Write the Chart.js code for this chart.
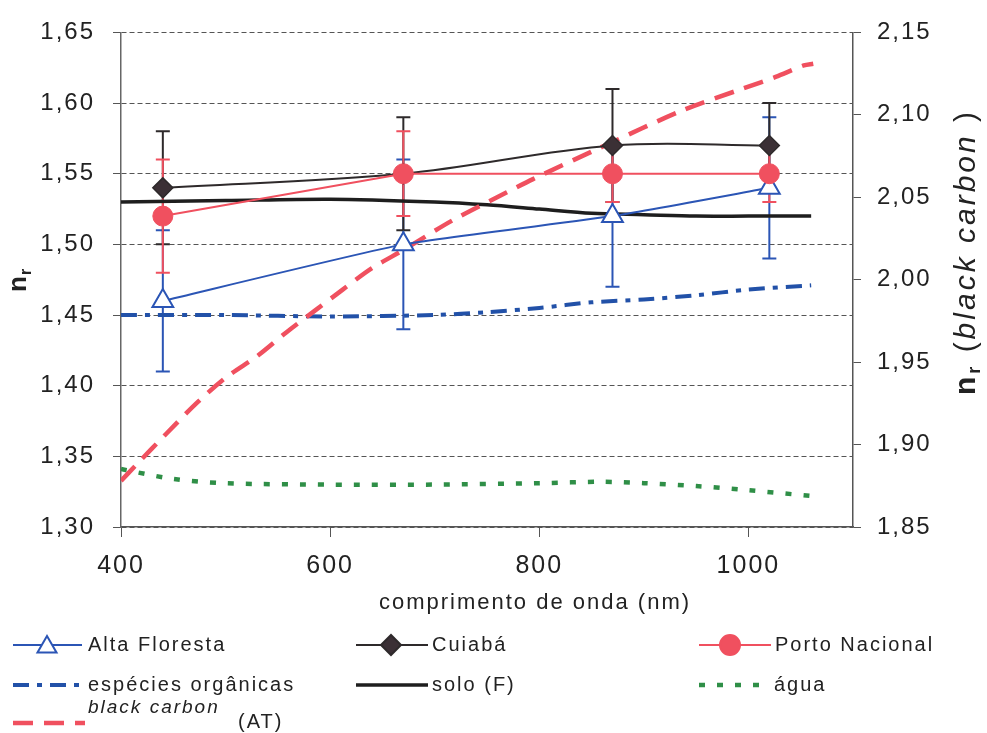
<!DOCTYPE html>
<html>
<head>
<meta charset="utf-8">
<script src="https://cdn.jsdelivr.net/npm/chart.js@4.4.1/dist/chart.umd.min.js"></script>
<style>
  html, body { margin: 0; padding: 0; background: #fff; }
</style>
</head>
<body>
<canvas id="chart" width="987" height="733"></canvas>
<script>
const FONT = '"Liberation Sans", Arial, sans-serif';

// Station measurements (nm, n_r, error)
const wlStations = [440, 670, 870, 1020];
const altaFloresta = [1.46, 1.50, 1.52, 1.54];
const altaFlorestaErr = [0.05, 0.06, 0.05, 0.05];
const cuiaba = [1.54, 1.55, 1.57, 1.57];
const cuiabaErr = [0.04, 0.04, 0.04, 0.03];
const portoNacional = [1.52, 1.55, 1.55, 1.55];
const portoNacionalErr = [0.04, 0.03, 0.02, 0.02];

// Reference curves (left axis)
const wlCurves = [400, 500, 600, 700, 750, 800, 850, 900, 950, 1000, 1060];
const organicas = [1.450, 1.450, 1.449, 1.450, 1.452, 1.455, 1.459, 1.461, 1.464, 1.468, 1.471];
const solo = [1.530, 1.531, 1.532, 1.530, 1.528, 1.525, 1.522, 1.521, 1.520, 1.520, 1.520];
const wlAgua = [400, 450, 500, 600, 700, 800, 860, 900, 950, 1000, 1060];
const agua = [1.341, 1.334, 1.331, 1.330, 1.330, 1.331, 1.332, 1.331, 1.329, 1.326, 1.322];

// black carbon (right axis)
const wlBC = [400, 415, 444, 472, 501, 531, 558, 587, 612, 640, 670, 717, 769, 794, 858, 938, 995, 1026, 1053, 1062];
const blackCarbon = [1.878, 1.888, 1.907, 1.925, 1.941, 1.954, 1.968, 1.982, 1.994, 2.007, 2.018, 2.036, 2.053, 2.061, 2.080, 2.103, 2.116, 2.123, 2.130, 2.131];

const xTicks = [400, 600, 800, 1000];

const RED = '#f0505f';
const BLUE = '#2b55b5';
const DARK = '#2e2a2b';
const GREEN = '#2f8f47';

function pts(xs, ys) {
    return xs.map((x, i) => ({ x: x, y: ys[i] }));
}
const comma = v => v.toFixed(2).replace('.', ',');

// error bars behind the markers
const errorBars = {
    id: 'errorBars',
    beforeDatasetsDraw(chart) {
        const ctx = chart.ctx, sx = chart.scales.x, sy = chart.scales.y;
        chart.data.datasets.forEach(ds => {
            if (!ds.errors) return;
            ctx.save();
            ctx.strokeStyle = ds.borderColor;
            ctx.lineWidth = 2;
            ds.data.forEach((p, i) => {
                const px = sx.getPixelForValue(p.x);
                const top = sy.getPixelForValue(p.y + ds.errors[i]);
                const bot = sy.getPixelForValue(p.y - ds.errors[i]);
                ctx.beginPath();
                ctx.moveTo(px, top); ctx.lineTo(px, bot);
                ctx.moveTo(px - 7, top); ctx.lineTo(px + 7, top);
                ctx.moveTo(px - 7, bot); ctx.lineTo(px + 7, bot);
                ctx.stroke();
            });
            ctx.restore();
        });
    }
};

const spacing = {
    id: 'spacing',
    beforeDraw(chart) { chart.ctx.letterSpacing = '2px'; }
};

function sampleLine(ctx, x1, x2, y, color, width, dash) {
    ctx.save();
    ctx.strokeStyle = color;
    ctx.lineWidth = width;
    ctx.setLineDash(dash || []);
    ctx.beginPath();
    ctx.moveTo(x1, y); ctx.lineTo(x2, y);
    ctx.stroke();
    ctx.restore();
}

function marker(ctx, style, x, y, r, fill, stroke) {
    ctx.save();
    ctx.beginPath();
    if (style === 'triangle') {
        for (let k = 0; k < 3; k++) {
            const a = k * 2 * Math.PI / 3;
            const px = x + Math.sin(a) * r, py = y - Math.cos(a) * r;
            k ? ctx.lineTo(px, py) : ctx.moveTo(px, py);
        }
        ctx.closePath();
    } else if (style === 'rectRot') {
        ctx.moveTo(x - r, y); ctx.lineTo(x, y - r); ctx.lineTo(x + r, y); ctx.lineTo(x, y + r);
        ctx.closePath();
    } else {
        ctx.arc(x, y, r, 0, Math.PI * 2);
    }
    ctx.fillStyle = fill;
    ctx.fill();
    ctx.strokeStyle = stroke;
    ctx.lineWidth = 2;
    ctx.stroke();
    ctx.restore();
}

function text(ctx, str, x, y, font, align) {
    ctx.font = font;
    ctx.textAlign = align || 'left';
    ctx.fillText(str, x, y);
}

// titles and the three column legend
const decorations = {
    id: 'decorations',
    afterDraw(chart) {
        const ctx = chart.ctx;
        ctx.save();
        ctx.fillStyle = '#222';
        ctx.textBaseline = 'middle';
        ctx.letterSpacing = '2px';

        // x title
        text(ctx, 'comprimento de onda (nm)', 535, 603, '22px ' + FONT, 'center');

        // left title n_r
        ctx.save();
        ctx.translate(26, 292);
        ctx.rotate(-Math.PI / 2);
        ctx.textBaseline = 'alphabetic';
        ctx.letterSpacing = '0px';
        text(ctx, 'n', 0, 0, 'bold 26px ' + FONT);
        const nw = ctx.measureText('n').width;
        text(ctx, 'r', nw + 1, 5, 'bold 16px ' + FONT);
        ctx.restore();

        // right title n_r (black carbon )
        ctx.save();
        ctx.textBaseline = 'alphabetic';
        ctx.letterSpacing = '3px';
        const parts = [
            ['n', 'bold 30px ' + FONT, 0],
            ['r', 'bold 18px ' + FONT, 5],
            [' (', '30px ' + FONT, 0],
            ['black carbon', 'italic 30px ' + FONT, 0],
            [' )', '30px ' + FONT, 0]
        ];
        let total = 0;
        parts.forEach(p => { ctx.font = p[1]; p.push(ctx.measureText(p[0]).width); total += p[3]; });
        ctx.translate(975, 252 + total / 2);
        ctx.rotate(-Math.PI / 2);
        let cx = 0;
        parts.forEach(p => { text(ctx, p[0], cx, p[2], p[1]); cx += p[3]; });
        ctx.restore();

        // legend
        const lf = '20px ' + FONT;
        sampleLine(ctx, 13, 82, 645, BLUE, 2);
        marker(ctx, 'triangle', 47, 647, 11, '#fff', BLUE);
        text(ctx, 'Alta Floresta', 88, 645, lf);

        sampleLine(ctx, 356, 428, 645, DARK, 2);
        marker(ctx, 'rectRot', 391, 645, 10, '#3b3035', DARK);
        text(ctx, 'Cuiabá', 432, 645, lf);

        sampleLine(ctx, 699, 771, 645, RED, 2);
        marker(ctx, 'circle', 730, 645, 10, RED, RED);
        text(ctx, 'Porto Nacional', 775, 645, lf);

        sampleLine(ctx, 13, 85, 685, '#2251a8', 4, [16, 8, 5, 8]);
        text(ctx, 'espécies orgânicas', 88, 685, lf);

        sampleLine(ctx, 356, 428, 685, '#1e1e1e', 3.5);
        text(ctx, 'solo (F)', 432, 685, lf);

        sampleLine(ctx, 699, 765, 685, GREEN, 4.5, [6, 12]);
        text(ctx, 'água', 774, 685, lf);

        sampleLine(ctx, 13, 85, 723, RED, 4.5, [20, 11]);
        text(ctx, 'black carbon', 88, 708, 'italic 19px ' + FONT);
        text(ctx, '(AT)', 238, 722, lf);

        ctx.restore();
    }
};

const ctx = document.getElementById('chart').getContext('2d');

new Chart(ctx, {
    type: 'line',
    data: {
        datasets: [
            {
                label: 'Alta Floresta', data: pts(wlStations, altaFloresta), errors: altaFlorestaErr,
                borderColor: BLUE, borderWidth: 2, tension: 0.15,
                pointStyle: 'triangle', pointRadius: 12, pointBorderWidth: 2,
                pointBackgroundColor: '#fff', pointBorderColor: BLUE, order: 1, yAxisID: 'y'
            },
            {
                label: 'Cuiabá', data: pts(wlStations, cuiaba), errors: cuiabaErr,
                borderColor: DARK, borderWidth: 2, tension: 0.35,
                pointStyle: 'rectRot', pointRadius: 10, pointBorderWidth: 1.5,
                pointBackgroundColor: '#3b3035', pointBorderColor: DARK, order: 2, yAxisID: 'y'
            },
            {
                label: 'Porto Nacional', data: pts(wlStations, portoNacional), errors: portoNacionalErr,
                borderColor: RED, borderWidth: 2, tension: 0,
                pointStyle: 'circle', pointRadius: 10, pointBorderWidth: 1,
                pointBackgroundColor: RED, pointBorderColor: RED, order: 0, yAxisID: 'y'
            },
            {
                label: 'espécies orgânicas', data: pts(wlCurves, organicas),
                borderColor: '#2251a8', borderWidth: 4, borderDash: [16, 8, 5, 8],
                pointRadius: 0, tension: 0.3, order: 5, yAxisID: 'y'
            },
            {
                label: 'solo (F)', data: pts(wlCurves, solo),
                borderColor: '#1e1e1e', borderWidth: 3.5,
                pointRadius: 0, tension: 0.3, order: 4, yAxisID: 'y'
            },
            {
                label: 'água', data: pts(wlAgua, agua),
                borderColor: GREEN, borderWidth: 4.5, borderDash: [6, 12],
                pointRadius: 0, tension: 0.3, order: 6, yAxisID: 'y'
            },
            {
                label: 'black carbon (AT)', data: pts(wlBC, blackCarbon),
                borderColor: RED, borderWidth: 4.5, borderDash: [20, 11],
                pointRadius: 0, tension: 0.3, order: 3, yAxisID: 'y2'
            }
        ]
    },
    options: {
        responsive: false,
        animation: false,
        layout: { padding: { top: 27, left: 0, right: 0, bottom: 0 } },
        plugins: {
            legend: { display: false },
            tooltip: { enabled: false }
        },
        scales: {
            x: {
                type: 'linear', min: 400, max: 1100,
                ticks: { stepSize: 200, padding: 14, color: '#222', callback: v => String(v), font: { family: FONT, size: 25 } },
                afterBuildTicks: axis => { axis.ticks = xTicks.map(v => ({ value: v })); },
                afterFit: axis => { axis.height = 206; },
                grid: { drawOnChartArea: false, drawTicks: true, tickLength: 10, tickColor: '#555' },
                border: { color: '#555', width: 1.5 }
            },
            y: {
                position: 'left', min: 1.30, max: 1.65,
                ticks: { stepSize: 0.05, padding: 18, color: '#222', callback: v => comma(v), font: { family: FONT, size: 24 } },
                afterFit: axis => { axis.width = 121; },
                grid: { color: '#555', lineWidth: 1, tickLength: 8, tickColor: '#555', tickBorderDash: [] },
                border: { color: '#666', width: 1.5, dash: [5, 3] }
            },
            y2: {
                position: 'right', min: 1.85, max: 2.15,
                ticks: { stepSize: 0.05, padding: 16, color: '#222', callback: v => comma(v), font: { family: FONT, size: 24 } },
                afterFit: axis => { axis.width = 134; },
                grid: { drawOnChartArea: false, tickLength: 8, tickColor: '#555' },
                border: { color: '#555', width: 1.5 }
            }
        }
    },
    plugins: [spacing, errorBars, decorations]
});
</script>
</body>
</html>
